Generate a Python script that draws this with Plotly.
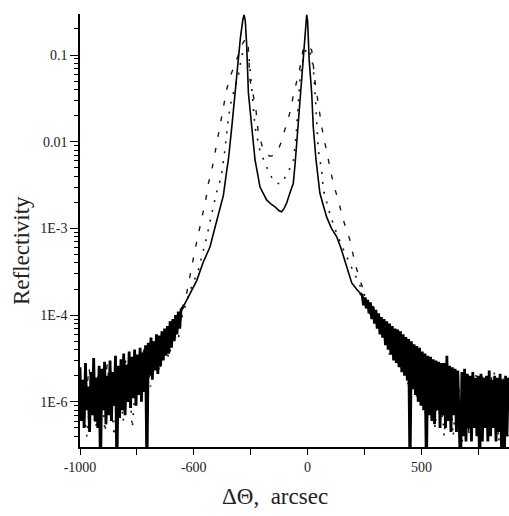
import plotly.graph_objects as go

# rocking curve, solid line: noisy left wing, main double peak, noisy right wing
theta_left = list(range(-1000, -550, 6))
refl_left = [
    2.5e-5, 6e-6, 1.8e-5, 5e-6, 2.8e-5, 8e-6, 1.5e-5, 4.5e-6, 2.2e-5, 7e-6,
    3.2e-5, 6e-6, 1.9e-5, 5e-6, 2.6e-5, 1.5e-6, 2.4e-5, 8e-6, 2.9e-5, 5.5e-6,
    2e-5, 7e-6, 3e-5, 6e-6, 2.2e-5, 9e-6, 3.4e-5, 1.5e-6, 2.6e-5, 6.5e-6,
    3.1e-5, 8e-6, 3.6e-5, 7e-6, 2.7e-5, 1e-5, 3.8e-5, 8.5e-6, 3.3e-5, 1.1e-5,
    4e-5, 9e-6, 3.5e-5, 1.2e-5, 4.2e-5, 1e-5, 3.7e-5, 1.3e-5, 4.5e-5, 1.5e-6,
    4.8e-5, 2e-5, 5.5e-5, 1.8e-5, 5e-5, 2.3e-5, 6e-5, 2.1e-5, 5.8e-5, 2.6e-5,
    6.5e-5, 3e-5, 7e-5, 3.4e-5, 7.5e-5, 3.6e-5, 8.5e-5, 4.2e-5, 9e-5, 5e-5,
    1e-4, 6e-5, 1.1e-4, 7e-5, 1.15e-4,
]

theta_core = [-546, -520, -487, -460, -429, -400, -385, -370, -355, -348, -333, -319,
              -307, -295, -284, -279, -274, -268, -260, -246, -231, -209, -195, -180,
              -160, -143, -125, -114, -103, -92, -77, -63, -55, -48, -40, -30, -19,
              -12, -7, -4, 0, 7, 18, 25, 37, 54, 70, 84, 105, 128, 146, 164, 180,
              194, 215, 230]
refl_core = [1.25e-4, 1.7e-4, 2.5e-4, 4e-4, 6.1e-4, 1.2e-3, 1.7e-3, 2.4e-3, 4.7e-3, 6.2e-3,
             0.0148, 0.0365, 0.0876, 0.16, 0.26, 0.29, 0.25, 0.137, 0.0365, 0.0148,
             0.0062, 0.003, 0.0025, 0.00213, 0.0019, 0.00177, 0.0016, 0.00156, 0.0017,
             0.00196, 0.0026, 0.0033, 0.0055, 0.0097, 0.018, 0.0365, 0.0876, 0.17, 0.26,
             0.29, 0.25, 0.0876, 0.0365, 0.0148, 0.0062, 0.00256, 0.0018, 0.00135, 1.0e-3,
             8e-4, 6e-4, 4.3e-4, 3.2e-4, 2.35e-4, 2e-4, 1.8e-4]

theta_right = list(range(240, 886, 6))
refl_right = [
    1.7e-4, 1.3e-4, 1.6e-4, 1.2e-4, 1.5e-4, 1.05e-4, 1.4e-4, 9e-5, 1.25e-4, 8e-5,
    1.15e-4, 7e-5, 1.05e-4, 6e-5, 9.5e-5, 5.5e-5, 9e-5, 4.5e-5, 8.5e-5, 4e-5,
    8e-5, 3.5e-5, 7.5e-5, 3e-5, 7e-5, 2.8e-5, 6.8e-5, 2.5e-5, 6.5e-5, 2.2e-5,
    6e-5, 2e-5, 5.6e-5, 1.8e-5, 5.3e-5, 1.5e-6, 5e-5, 1.4e-5, 4.6e-5, 1.2e-5,
    4.4e-5, 1e-5, 4.2e-5, 9e-6, 3.8e-5, 8e-6, 3.6e-5, 1.5e-6, 3.4e-5, 7e-6,
    3.3e-5, 6e-6, 3.1e-5, 5.5e-6, 3e-5, 8e-6, 2.9e-5, 5e-6, 2.8e-5, 7e-6,
    2.8e-5, 5e-6, 3.4e-5, 6e-6, 2.6e-5, 4.5e-6, 2.5e-5, 7e-6, 2.4e-5, 4.5e-6,
    2.3e-5, 6e-6, 1.5e-6, 2.2e-5, 4e-6, 2.4e-5, 3.5e-6, 2.1e-5, 5e-6, 2e-5,
    3.5e-6, 2.2e-5, 5e-6, 1.9e-5, 4e-6, 2e-5, 1.5e-6, 2.1e-5, 3.5e-6, 1.9e-5,
    5e-6, 2e-5, 3.5e-6, 2.3e-5, 4e-6, 1.8e-5, 5e-6, 2e-5, 3.5e-6, 1.9e-5,
    4.5e-6, 2.1e-5, 3e-6, 1.8e-5, 1.5e-6, 2e-5, 4e-6, 1.9e-5,
]

# dashed curve
dash_x = [-1000, -980, -960, -940, -920, -900, -880, -860, -840, -820, -800, -780, -760,
          -740, -720, -700, -680, -660, -640, -620, -600, -580, -560,
          -531, -495, -458, -448, -436, -421, -407, -395, -385, -370, -356, -341, -316,
          -298, -283, -270, -262, -253, -240, -228, -217, -200, -187, -165, -143, -130,
          -117, -95, -77, -64, -47, -33, -20, -8, 5, 18, 33, 43, 62, 76, 98, 113, 135,
          157, 186, 208, 230,
          250, 270, 290, 310, 330, 350, 370, 390, 410, 430, 450, 470, 490, 510, 530,
          550, 570, 590, 610, 630, 650, 670, 690, 710, 730, 750, 770, 790, 810, 830,
          850, 870]
dash_y = [2e-5, 8e-6, 2.5e-5, 7e-6, 2.2e-5, 9e-6, 2.8e-5, 6e-6, 2.5e-5, 1e-5, 3e-5, 1.2e-5,
          3.5e-5, 1.5e-5, 4e-5, 2e-5, 5e-5, 2.8e-5, 6e-5, 4e-5, 7.5e-5, 6e-5, 1e-4,
          1.8e-4, 5.6e-4, 1.5e-3, 2.1e-3, 3.3e-3, 4.7e-3, 7.4e-3, 0.011, 0.0169, 0.025,
          0.0395, 0.0557, 0.081, 0.11, 0.14, 0.155, 0.145, 0.0515, 0.035, 0.0251, 0.0129,
          0.009, 0.0074, 0.0068, 0.007, 0.008, 0.0097, 0.0148, 0.022, 0.0328, 0.0489,
          0.0727, 0.114, 0.13, 0.125, 0.114, 0.0489, 0.0328, 0.0148, 0.0097, 0.0051,
          0.0033, 0.0021, 0.00125, 7.35e-4, 4e-4, 2.54e-4,
          1.8e-4, 1.1e-4, 1.3e-4, 8e-5, 9e-5, 5e-5, 7e-5, 3.5e-5, 5.5e-5, 2.2e-5, 4.5e-5,
          1.6e-5, 3.8e-5, 1e-5, 3.2e-5, 7e-6, 2.8e-5, 6e-6, 2.6e-5, 5e-6, 2.4e-5, 4.5e-6,
          2.2e-5, 4e-6, 2.2e-5, 4e-6, 2e-5, 4.5e-6, 2.1e-5, 3.8e-6, 2e-5, 4e-6]

# dotted curve
dot_x = [-990, -970, -950, -930, -910, -890, -870, -850, -830, -810, -790, -770, -750,
         -730, -710, -690, -670, -650, -630, -610, -590, -570, -550,
         -517, -480, -443, -414, -400, -380, -366, -348, -337, -320, -305, -292, -280,
         -268, -257, -245, -231, -210, -180, -158, -136, -112, -89, -63, -50, -40, -33,
         -20, -5, 10, 25, 35, 47, 62, 69, 100, 130, 160, 201, 230,
         260, 280, 300, 320, 340, 360, 380, 400, 420, 440, 460, 480, 500, 520, 540,
         560, 580, 600, 620, 640, 660, 680, 700, 720, 740, 760, 780, 800, 820, 840,
         860, 880]
dot_y = [1.2e-5, 4e-6, 1.6e-5, 5e-6, 2e-5, 4.5e-6, 1.8e-5, 4e-6, 2.2e-5, 6e-6, 2.6e-5, 5e-6,
         3e-5, 1.1e-5, 3.6e-5, 1.5e-5, 4.2e-5, 2.2e-5, 5e-5, 3.2e-5, 6e-5, 5e-5, 1e-4,
         1.9e-4, 3.3e-4, 8e-4, 1.8e-3, 2.6e-3, 3.9e-3, 7e-3, 0.0188, 0.028, 0.042, 0.0557,
         0.09, 0.12, 0.115, 0.09, 0.04, 0.0148, 0.008, 0.0051, 0.0039, 0.0033, 0.0033,
         0.0044, 0.0057, 0.012, 0.03, 0.055, 0.09, 0.12, 0.11, 0.073, 0.03, 0.008, 0.0047,
         0.0028, 1.4e-3, 8.5e-4, 5.5e-4, 3.3e-4, 2.2e-4,
         1.5e-4, 9e-5, 1.1e-4, 6e-5, 8e-5, 3.5e-5, 6e-5, 2.5e-5, 5e-5, 1.5e-5, 4e-5,
         1.1e-5, 3.3e-5, 6e-6, 2.8e-5, 5e-6, 2.5e-5, 4e-6, 2.4e-5, 4e-6, 2.2e-5, 3.5e-6,
         2e-5, 3.6e-6, 2.1e-5, 3.4e-6, 2e-5, 4e-6, 2.2e-5, 3.5e-6, 1.9e-5, 4e-6]

x_ticks = [-1000, -750, -500, -250, 0, 250, 500, 750]
x_labels = ["-1000", "", "-600", "", "0", "", "500", ""]
y_ticks = [0.1, 0.01, 1e-3, 1e-4, 1e-5]
y_labels = ["0.1", "0.01", "1E-3", "1E-4", "1E-6"]

fig = go.Figure()
fig.add_trace(go.Scatter(x=dash_x, y=dash_y, mode="lines",
                         line=dict(color="#1a1a1a", width=1.4, dash="5px,11px")))
fig.add_trace(go.Scatter(x=dot_x, y=dot_y, mode="lines",
                         line=dict(color="#1a1a1a", width=1.6, dash="2px,8px")))
# noisy wings drawn heavier so they read as a dark band
fig.add_trace(go.Scatter(x=theta_left + theta_core[:1], y=refl_left + refl_core[:1], mode="lines",
                         line=dict(color="black", width=2.8)))
fig.add_trace(go.Scatter(x=theta_core[-1:] + theta_right, y=refl_core[-1:] + refl_right, mode="lines",
                         line=dict(color="black", width=2.8)))
fig.add_trace(go.Scatter(x=theta_core, y=refl_core, mode="lines",
                         line=dict(color="black", width=1.6)))

minor_y = [m * 10.0 ** e for e in range(-6, 0) for m in range(2, 10)]

font = "Liberation Serif"
fig.update_xaxes(range=[-1000, 885], tickvals=x_ticks, ticktext=x_labels,
                 ticks="outside", ticklen=6, tickwidth=1.2, tickcolor="black",
                 showline=True, linecolor="black", linewidth=1.5,
                 showgrid=False, zeroline=False,
                 tickfont=dict(family=font, size=14, color="#222"))
fig.update_yaxes(type="log", range=[-5.521, -0.527], tickvals=y_ticks, ticktext=y_labels,
                 ticks="outside", ticklen=8, tickwidth=1.2, tickcolor="black",
                 minor=dict(tickvals=minor_y, ticks="outside", ticklen=4, tickcolor="black"),
                 showline=True, linecolor="black", linewidth=1.5,
                 showgrid=False, zeroline=False,
                 tickfont=dict(family=font, size=14, color="#222"))

fig.add_annotation(text="ΔΘ,  arcsec", xref="paper", yref="paper",
                   x=(275 - 80) / 429, y=-50 / 433, xanchor="center", yanchor="middle",
                   showarrow=False, font=dict(family=font, size=23, color="#222"))
fig.add_annotation(text="Reflectivity", xref="paper", yref="paper",
                   x=-58 / 429, y=(447 - 251) / 433, xanchor="center", yanchor="middle",
                   textangle=-90, showarrow=False, font=dict(family=font, size=23, color="#222"))

fig.update_layout(width=509, height=516, margin=dict(l=80, r=0, t=14, b=69),
                  plot_bgcolor="white", paper_bgcolor="white", showlegend=False)

fig.write_html("out.html", config={"displayModeBar": False},
               post_script="document.body.style.margin='0';document.body.style.overflow='hidden';")
